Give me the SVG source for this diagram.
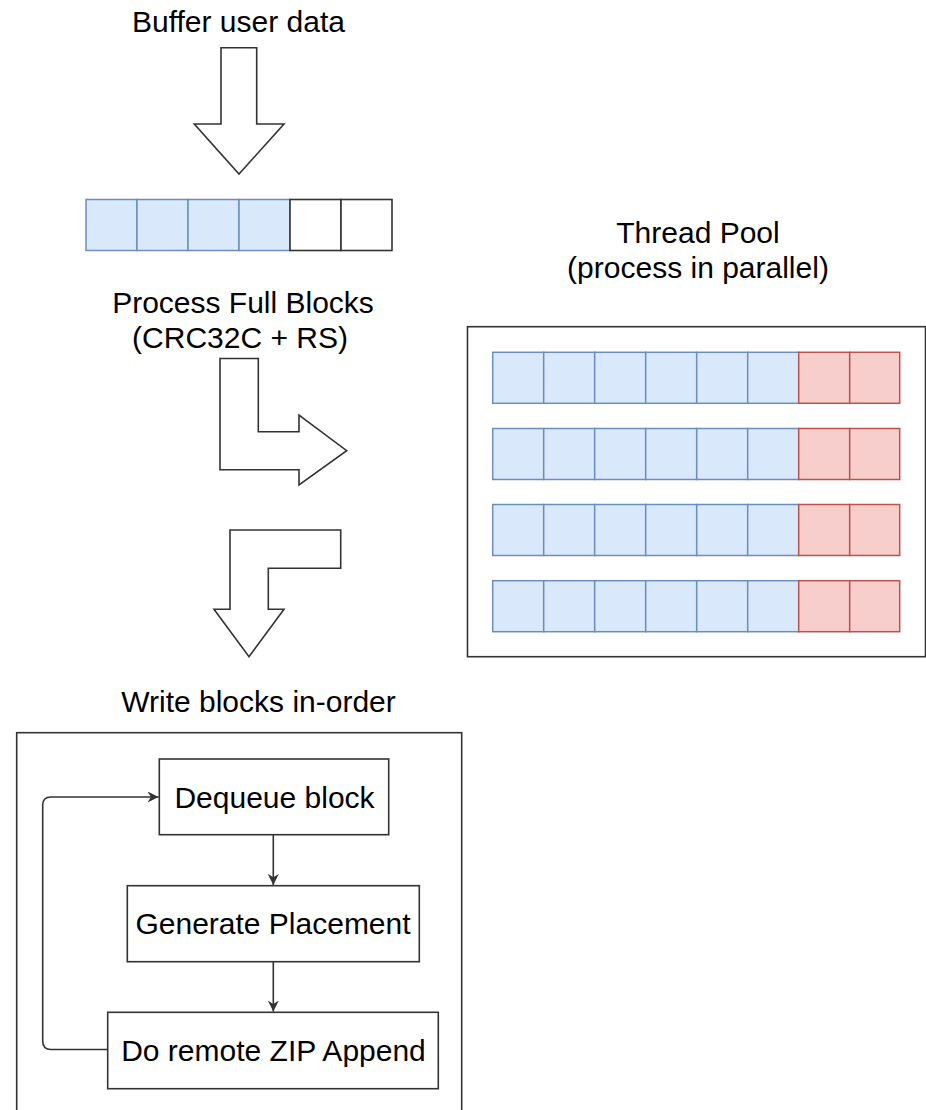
<svg xmlns="http://www.w3.org/2000/svg" width="926" height="1110" viewBox="0 0 926 1110">
  <style>
    .t { font-family: "Liberation Sans", Arial, sans-serif; font-size: 30px; fill: #000; text-anchor: middle; }
    .blue { fill: #dae8fc; stroke: #6c8ebf; stroke-width: 1.5; }
    .red { fill: #f8cecc; stroke: #b85450; stroke-width: 1.5; }
    .white { fill: #fff; stroke: #333; stroke-width: 1.6; }
    .shape { fill: #fff; stroke: #333; stroke-width: 1.6; stroke-linejoin: miter; }
    .edge { fill: none; stroke: #333; stroke-width: 1.6; }
  </style>
  <defs>
    <marker id="arr" viewBox="0 0 10 10" refX="10" refY="5" markerWidth="11" markerHeight="11" markerUnits="userSpaceOnUse" orient="auto">
      <path d="M0,0 L10,5 L0,10 L3,5 Z" fill="#333"/>
    </marker>
    <g id="row">
      <rect class="blue" x="0" y="0" width="51" height="51"/>
      <rect class="blue" x="51" y="0" width="51" height="51"/>
      <rect class="blue" x="102" y="0" width="51" height="51"/>
      <rect class="blue" x="153" y="0" width="51" height="51"/>
      <rect class="blue" x="204" y="0" width="51" height="51"/>
      <rect class="blue" x="255" y="0" width="51" height="51"/>
      <rect class="red" x="306" y="0" width="51" height="51"/>
      <rect class="red" x="357" y="0" width="50" height="51"/>
    </g>
  </defs>
  <rect width="926" height="1110" fill="#fff"/>

  <g id="buffer-input">
    <text class="t" x="238.5" y="31.5">Buffer user data</text>
    <polygon class="shape" points="221,47.7 256.7,47.7 256.7,124 284,124 239,174 194.3,124 221,124"/>
  </g>

  <g id="buffer">
    <rect class="blue" x="86" y="199.5" width="51" height="51"/>
    <rect class="blue" x="137" y="199.5" width="51" height="51"/>
    <rect class="blue" x="188" y="199.5" width="51" height="51"/>
    <rect class="blue" x="239" y="199.5" width="51" height="51"/>
    <rect class="white" x="290" y="199.5" width="51" height="51"/>
    <rect class="white" x="341" y="199.5" width="51" height="51"/>
  </g>

  <g id="process-full-blocks">
    <text class="t" x="243" y="313">Process Full Blocks</text>
    <text class="t" x="240" y="348">(CRC32C + RS)</text>
    <polygon class="shape" points="220,358.5 258.3,358.5 258.3,431.7 299,431.7 299,415 346.7,450.7 299,485 299,469.7 220,469.7"/>
  </g>

  <g id="return-arrow">
    <polygon class="shape" points="230,530 340.7,530 340.7,568.3 268.3,568.3 268.3,609.3 284,609.3 249,656.7 214,609.3 230,609.3"/>
  </g>

  <g id="thread-pool">
    <text class="t" x="698" y="243">Thread Pool</text>
    <text class="t" x="698" y="277.5">(process in parallel)</text>
    <rect class="white" x="467.5" y="326.7" width="458" height="330"/>
    <use href="#row" x="492.7" y="352.3"/>
    <use href="#row" x="492.7" y="428.5"/>
    <use href="#row" x="492.7" y="504.5"/>
    <use href="#row" x="492.7" y="580.7"/>
  </g>

  <g id="write-blocks">
    <text class="t" x="258.5" y="711.5">Write blocks in-order</text>
    <rect class="white" x="16.7" y="732.7" width="445" height="400"/>
  </g>

  <g id="dequeue-block">
    <rect class="white" x="159.3" y="759" width="229.4" height="75.7"/>
    <text class="t" x="274.5" y="807.5">Dequeue block</text>
  </g>

  <g id="generate-placement">
    <rect class="white" x="127.3" y="885.7" width="292" height="76"/>
    <text class="t" x="273" y="934">Generate Placement</text>
  </g>

  <g id="zip-append">
    <rect class="white" x="107.7" y="1012.3" width="330.6" height="76.4"/>
    <text class="t" x="273.5" y="1060.7">Do remote ZIP Append</text>
  </g>

  <g id="connectors">
    <path class="edge" d="M273.3,834.7 V885" marker-end="url(#arr)"/>
    <path class="edge" d="M273.3,961.7 V1011.6" marker-end="url(#arr)"/>
    <path class="edge" d="M107.7,1049.5 H51 Q42.7,1049.5 42.7,1041 V805 Q42.7,797 51,797 H158.6" marker-end="url(#arr)"/>
  </g>
</svg>
